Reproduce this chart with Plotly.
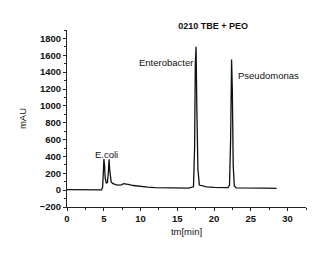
import plotly.graph_objects as go

time_min = [0, 1, 2, 3, 4, 4.7, 4.85, 4.95, 5.02, 5.1, 5.2, 5.35, 5.5, 5.62, 5.72, 5.8, 5.88, 6.0, 6.2, 6.6, 7.0, 7.4, 7.7, 8.0, 8.5, 9, 10, 11, 12, 13, 15, 16.5, 17.2, 17.35, 17.45, 17.55, 17.65, 17.8, 18.0, 18.5, 19, 20, 21, 21.9, 22.1, 22.25, 22.38, 22.48, 22.6, 22.75, 23, 24, 25, 26, 27, 28.5]
signal_mau = [5, 4, 3, 2, 2, 3, 40, 250, 370, 300, 140, 80, 95, 200, 365, 250, 140, 100, 80, 65, 60, 62, 78, 75, 65, 55, 42, 35, 30, 28, 25, 24, 40, 500, 1500, 1700, 1000, 250, 60, 45, 38, 32, 30, 30, 60, 600, 1550, 1200, 300, 50, 28, 25, 24, 24, 23, 22]

peak_labels = ["E.coli", "Enterobacter", "Pseudomonas"]
label_x = [5.35, 17.35, 23.0]
label_y = [420, 1520, 1360]
x_ticks = [0, 5, 10, 15, 20, 25, 30]
y_ticks = [-200, 0, 200, 400, 600, 800, 1000, 1200, 1400, 1600, 1800]

FONT = "Liberation Sans, Arial"

fig = go.Figure()
fig.add_trace(go.Scatter(x=time_min, y=signal_mau, mode="lines",
                         line=dict(color="#111111", width=1.3), showlegend=False))

for t, xx, yy in zip(peak_labels, label_x, label_y):
    anchor = "center" if t == "E.coli" else ("right" if t == "Enterobacter" else "left")
    fig.add_annotation(x=xx, y=yy, text=t, showarrow=False, xanchor=anchor, yanchor="middle",
                       font=dict(family=FONT, size=9.5, color="#111111"))

axis_common = dict(showline=True, linecolor="#222222", linewidth=1, ticks="outside",
                   ticklen=3, tickcolor="#222222", showgrid=False, zeroline=False,
                   tickfont=dict(family=FONT, size=9.5, color="#111111", weight="bold"),
                   mirror=False, automargin=False)

fig.update_layout(
    width=318, height=250,
    margin=dict(l=59, r=20, t=22, b=51),
    paper_bgcolor="white", plot_bgcolor="white",
    title=dict(text="<b>0210 TBE + PEO</b>", x=0.645, xanchor="center", y=0.93, yanchor="middle",
               font=dict(family=FONT, size=9, color="#111111")),
    xaxis=dict(range=[0, 32.5], tickvals=x_ticks,
               title=dict(text="tm[min]", standoff=4, font=dict(family=FONT, size=9.5, color="#111111")),
               minor=dict(ticks="outside", dtick=2.5, ticklen=2, tickcolor="#222222"),
               **axis_common),
    yaxis=dict(range=[-200, 1900], tickvals=y_ticks,
               title=dict(text="mAU", standoff=11, font=dict(family=FONT, size=9.5, color="#111111")),
               minor=dict(ticks="outside", dtick=100, ticklen=2, tickcolor="#222222"),
               **axis_common),
)

fig.write_html("out.html")
